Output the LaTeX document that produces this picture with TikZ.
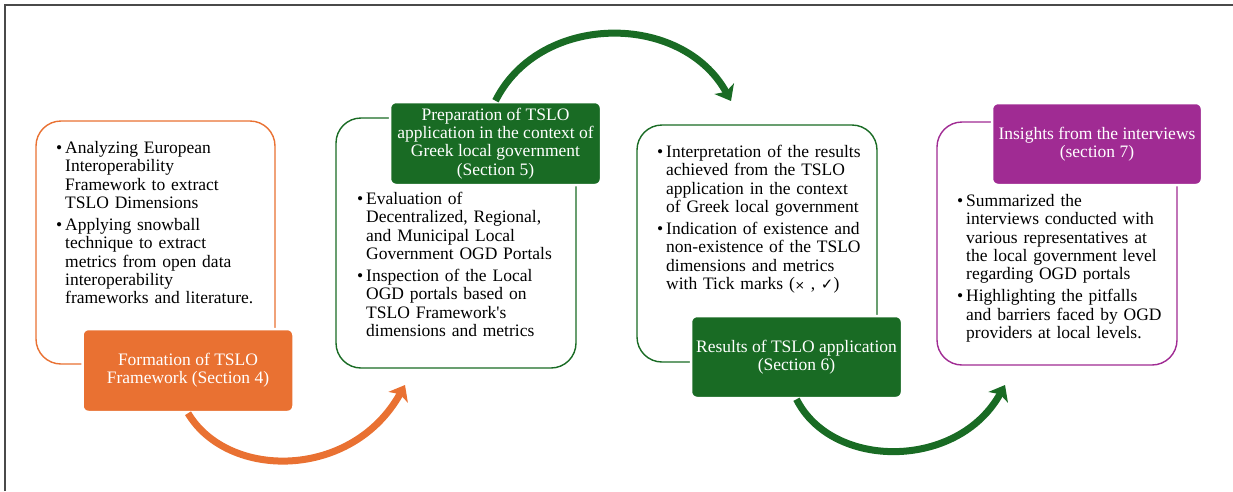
\documentclass[tikz,border=0pt]{standalone}
\usepackage{fontspec}
\setmainfont{Liberation Serif}
\newfontfamily\symfont{DejaVu Sans}
\usetikzlibrary{arrows.meta}

\definecolor{tsloorange}{HTML}{E97132}
\definecolor{tslogreen}{HTML}{196B24}
\definecolor{tslopurple}{HTML}{A02B93}
\definecolor{framegray}{HTML}{4A4A4A}

\newcommand{\bitem}[1]{\par\noindent\hangindent=9pt\hangafter=1\makebox[9pt][l]{\textbullet}#1\par}
\newcommand{\bgap}{\vspace{3.7pt}}

\tikzset{
  panel/.style={draw=#1, line width=1.4pt, rounded corners=25pt, fill=white},
  header/.style={fill=#1, draw=white, line width=2.5pt, rounded corners=6pt,
    text=white, align=center, inner sep=0pt},
  bullets/.style={anchor=north west, inner sep=0pt, text width=232pt},
  flow/.style={draw=#1, line width=7pt,
    -{Stealth[length=14pt,width=22pt,inset=3.5pt,fill=#1]}},
}

\begin{document}
\begin{tikzpicture}[x=1pt, y=-1pt, font=\fontsize{17.5}{18.3}\selectfont]
		%%%%% FRAME %%%%%
		\useasboundingbox (0,0) rectangle (1233,491);
		\draw[framegray, line width=2pt] (5,491) -- (5,5) -- (1233,5);
		
		%%%%% PANELS %%%%%
		\node[panel=tsloorange, minimum width=239pt, minimum height=243pt] (b1) at (155.5,242.5) {};
		\node[panel=tslogreen, minimum width=240pt, minimum height=250pt] (b2) at (456,243) {};
		\node[panel=tslogreen, minimum width=240pt, minimum height=237pt] (b3) at (757,243.5) {};
		\node[panel=tslopurple, minimum width=240pt, minimum height=243pt] (b4) at (1057,243.5) {};
		
		%%%%% HEADERS %%%%%
		\node[header=tsloorange, minimum width=211pt, minimum height=83pt] (h1) at (188,370.5)
			{Formation of TSLO\\Framework (Section 4)};
		\node[header=tslogreen, minimum width=211pt, minimum height=83pt] (h2) at (495.5,143.5)
			{Preparation of TSLO\\application in the context of\\Greek local government\\(Section 5)};
		\node[header=tslogreen, minimum width=211pt, minimum height=82pt] (h3) at (796.5,357)
			{Results of TSLO application\\(Section 6)};
		\node[header=tslopurple, minimum width=210pt, minimum height=82pt] (h4) at (1097,144)
			{Insights from the interviews\\(section 7)};
		
		%%%%% BULLETS %%%%%
		\node[bullets] (t1) at (56,135) {%
			\bitem{Analyzing European\newline Interoperability\newline Framework to extract\newline TSLO Dimensions}\bgap
			\bitem{Applying snowball\newline technique to extract\newline metrics from open data\newline interoperability\newline frameworks and literature.}};
		\node[bullets] (t2) at (357,186) {%
			\bitem{Evaluation of\newline Decentralized, Regional,\newline and Municipal Local\newline Government OGD Portals}\bgap
			\bitem{Inspection of the Local\newline OGD portals based on\newline TSLO Framework\textquotesingle s\newline dimensions and metrics}};
		\node[bullets] (t3) at (657,139) {%
			\bitem{Interpretation of the results\newline achieved from the TSLO\newline application in the context\newline of Greek local government}\bgap
			\bitem{Indication of existence and\newline non-existence of the TSLO\newline dimensions and metrics\newline with Tick marks ({\symfont\fontsize{12}{14}\selectfont ×} , {\symfont\fontsize{15}{14}\selectfont ✓})}};
		\node[bullets] (t4) at (957,188) {%
			\bitem{Summarized the\newline interviews conducted with\newline various representatives at\newline the local government level\newline regarding OGD portals}\bgap
			\bitem{Highlighting the pitfalls\newline and barriers faced by OGD\newline providers at local levels.}};
		
		%%%%% ARROWS %%%%%
		\coordinate (a1) at (405,385);
		\coordinate (a2) at (731,101);
		\coordinate (a3) at (1005,385);
		\draw[flow=tsloorange] (h1.south) .. controls (228,480) and (352,480) .. (a1);
		\draw[flow=tslogreen] (h2.north) .. controls (540,12) and (682,12) .. (a2);
		\draw[flow=tslogreen] (h3.south) .. controls (832,470) and (958,470) .. (a3);
		%%%%% END %%%%%
\end{tikzpicture}
\end{document}
